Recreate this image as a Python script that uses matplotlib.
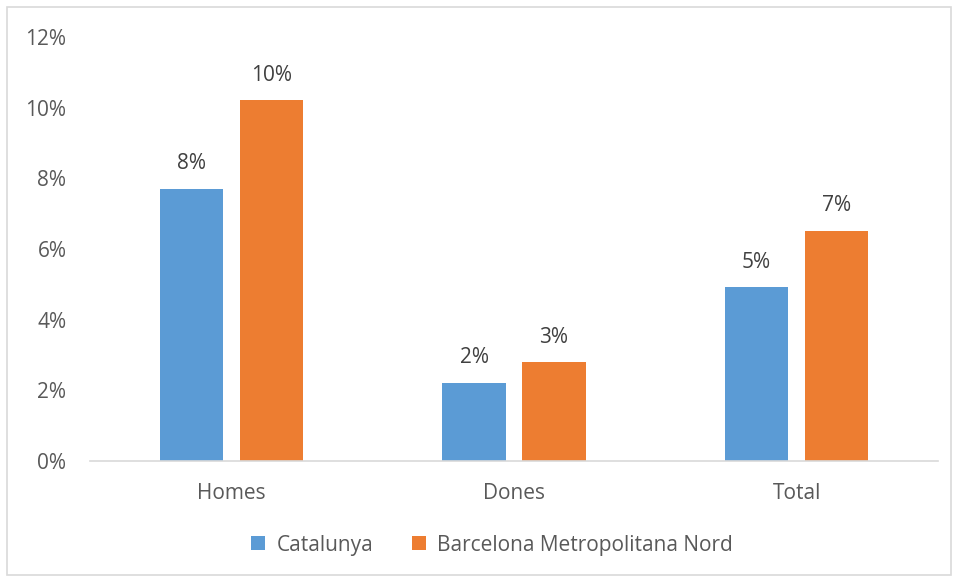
import matplotlib.pyplot as plt
import numpy as np
from matplotlib.patches import Rectangle
from matplotlib.ticker import PercentFormatter

plt.rcParams['font.family'] = ['Open Sans', 'DejaVu Sans']

categories = ['Homes', 'Dones', 'Total']
catalunya = [0.0771, 0.0222, 0.0492]
bcn_nord = [0.1022, 0.0280, 0.0652]
series_names = ['Catalunya', 'Barcelona Metropolitana Nord']
colors = ['#5b9bd5', '#ed7d31']
text_color = '#595959'
label_color = '#404040'
fs = 15

fig = plt.figure(figsize=(9.56, 5.78), dpi=100)
ax = fig.add_axes([90 / 956, 1 - 461 / 578, 848 / 956, 424 / 578])

# light chart-area frame
fig.patches.append(Rectangle((7 / 956, 3 / 578), 944 / 956, 568 / 578,
                             transform=fig.transFigure, fill=False,
                             edgecolor='#d9d9d9', linewidth=1.2))

x = np.arange(len(categories))
w = 0.223
off = w / 2 + 0.03
for vals, name, col, sign in [(catalunya, series_names[0], colors[0], -1),
                              (bcn_nord, series_names[1], colors[1], 1)]:
    bars = ax.bar(x + sign * off, vals, width=w, color=col, label=name)
    for b, v in zip(bars, vals):
        ax.text(b.get_x() + b.get_width() / 2, v + 0.004, f'{v * 100:.0f}%',
                ha='center', va='bottom', fontsize=fs, color=label_color)

ax.set_xlim(-0.5, 2.5)
ax.set_ylim(0, 0.12)
ax.set_yticks(np.arange(0, 0.121, 0.02))
ax.yaxis.set_major_formatter(PercentFormatter(1.0, decimals=0))
ax.set_xticks(x)
ax.set_xticklabels(categories)
ax.tick_params(axis='both', length=0, labelsize=fs, colors=text_color)
ax.tick_params(axis='y', pad=17)
ax.tick_params(axis='x', pad=16)
for s in ['top', 'right', 'left']:
    ax.spines[s].set_visible(False)
ax.spines['bottom'].set_color('#d9d9d9')
ax.spines['bottom'].set_linewidth(1.2)

leg = fig.legend(loc='center', bbox_to_anchor=(492 / 956, 1 - 545 / 578), ncol=2,
                 frameon=False, fontsize=fs, handlelength=0.67, handleheight=0.67,
                 columnspacing=1.87, handletextpad=0.53)
for t in leg.get_texts():
    t.set_color(text_color)

fig.savefig('out.png', dpi=100)
